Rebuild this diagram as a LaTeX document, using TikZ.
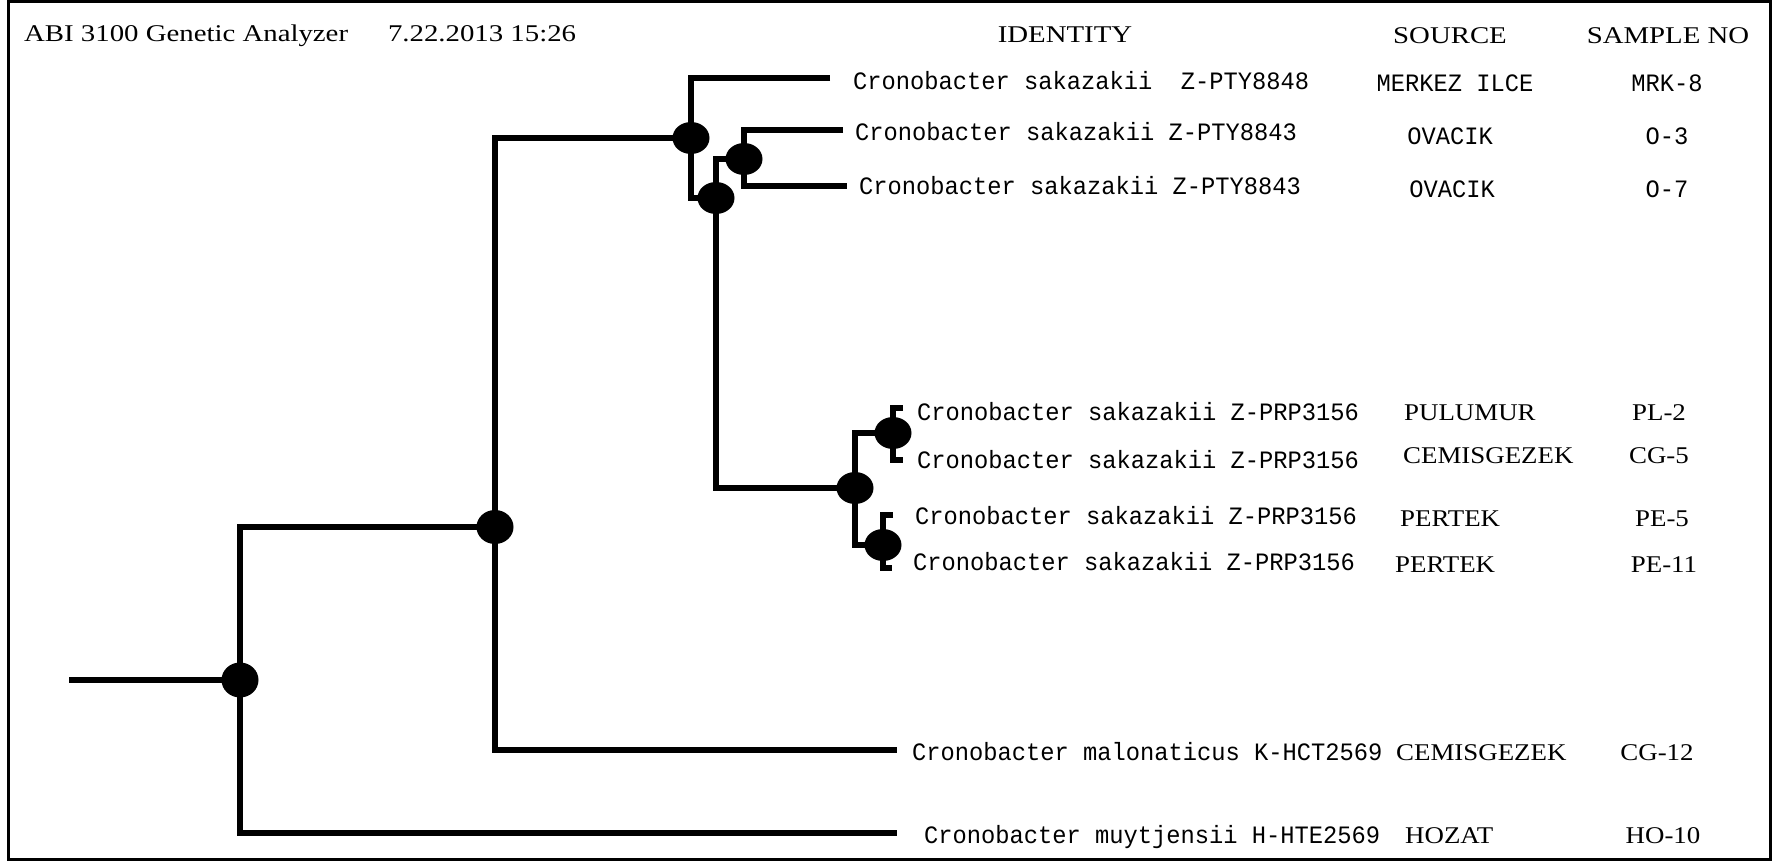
\documentclass[tikz,border=0pt]{standalone}
\usepackage{fontspec}
\usetikzlibrary{shapes.geometric}
\newfontfamily\monof[FakeStretch=0.95]{Liberation Mono}
\newfontfamily\serf[FakeStretch=1.12]{Liberation Serif}
\newfontfamily\hserf[FakeStretch=1.2]{Liberation Serif}
\begin{document}
\begin{tikzpicture}[x=1pt,y=-1pt,
  branch/.style={line width=5.5pt,line join=miter,line cap=butt},
  dot/.style={ellipse,fill=black,draw=none,minimum width=37pt,minimum height=32pt,inner sep=0pt},
  mono/.style={inner sep=0pt,font={\monof\fontsize{25}{30}\selectfont}},
  ser/.style={inner sep=0pt,font={\serf\fontsize{24}{29}\selectfont}},
  hser/.style={inner sep=0pt,font={\hserf\fontsize{24}{29}\selectfont}}]
\useasboundingbox (0,0) rectangle (1773,861);
\draw[line width=3pt] (8.5,1.5) rectangle (1770,859.5);

% header
\node[hser,anchor=base west] (hdr) at (24,42) {ABI 3100 Genetic Analyzer\hspace{40pt}7.22.2013 15:26};
\node[hser,anchor=base] (hid) at (1065,43) {IDENTITY};
\node[hser,anchor=base] (hsrc) at (1450,44) {SOURCE};
\node[hser,anchor=base] (hno) at (1668,44) {SAMPLE NO};

% tree nodes
\node[dot,minimum height=35pt] (root) at (240,680) {};
\node[dot,minimum height=34pt] (nA) at (495,527) {};
\node[dot] (nB) at (691,138) {};
\node[dot] (nC) at (716,198) {};
\node[dot] (nD) at (744,159) {};
\node[dot] (nE) at (855,488) {};
\node[dot] (nF) at (893,433) {};
\node[dot] (nG) at (883,545) {};

% leaf ends
\coordinate (stub) at (69,680);
\coordinate (t1) at (830,78);
\coordinate (t2) at (843,130);
\coordinate (t3) at (847,186);
\coordinate (t4) at (903,408);
\coordinate (t5) at (903,460);
\coordinate (t6) at (893,515);
\coordinate (t7) at (892,568);
\coordinate (t8) at (897,750);
\coordinate (t9) at (897,833);

% branches
\draw[branch] (stub) -- (root.center);
\draw[branch] (nA.center) -| (root.center) |- (t9);
\draw[branch] (nB.center) -| (nA.center) |- (t8);
\draw[branch] (t1) -| (nB.center) |- (nC.center);
\draw[branch] (nD.center) -| (nC.center) |- (nE.center);
\draw[branch] (t2) -| (nD.center) |- (t3);
\draw[branch] (nF.center) -| (nE.center) |- (nG.center);
\draw[branch] (t4) -| (nF.center) |- (t5);
\draw[branch] (t6) -| (nG.center) |- (t7);

% labels: identity
\node[mono,anchor=base west] (id1) at (853,90) {Cronobacter sakazakii\ \ Z-PTY8848};
\node[mono,anchor=base west] (id2) at (855,141) {Cronobacter sakazakii Z-PTY8843};
\node[mono,anchor=base west] (id3) at (859,195) {Cronobacter sakazakii Z-PTY8843};
\node[mono,anchor=base west] (id4) at (917,420) {Cronobacter sakazakii Z-PRP3156};
\node[mono,anchor=base west] (id5) at (917,468) {Cronobacter sakazakii Z-PRP3156};
\node[mono,anchor=base west] (id6) at (915,524) {Cronobacter sakazakii Z-PRP3156};
\node[mono,anchor=base west] (id7) at (913,570) {Cronobacter sakazakii Z-PRP3156};
\node[mono,anchor=base west] (id8) at (912,760) {Cronobacter malonaticus K-HCT2569};
\node[mono,anchor=base west] (id9) at (924,843) {Cronobacter muytjensii H-HTE2569};

% source
\node[mono,anchor=base] (s1) at (1455,92) {MERKEZ ILCE};
\node[mono,anchor=base] (s2) at (1450,145) {OVACIK};
\node[mono,anchor=base] (s3) at (1452,198) {OVACIK};
\node[ser,anchor=base west] (s4) at (1404,420) {PULUMUR};
\node[ser,anchor=base west] (s5) at (1403,463) {CEMISGEZEK};
\node[ser,anchor=base west] (s6) at (1400,526) {PERTEK};
\node[ser,anchor=base west] (s7) at (1395,572) {PERTEK};
\node[ser,anchor=base west] (s8) at (1396,760) {CEMISGEZEK};
\node[ser,anchor=base west] (s9) at (1405,843) {HOZAT};

% sample no
\node[mono,anchor=base] (m1) at (1667,92) {MRK-8};
\node[mono,anchor=base] (m2) at (1667,145) {O-3};
\node[mono,anchor=base] (m3) at (1667,198) {O-7};
\node[ser,anchor=base] (m4) at (1659,420) {PL-2};
\node[ser,anchor=base] (m5) at (1659,463) {CG-5};
\node[ser,anchor=base] (m6) at (1662,526) {PE-5};
\node[ser,anchor=base] (m7) at (1664,572) {PE-11};
\node[ser,anchor=base] (m8) at (1657,760) {CG-12};
\node[ser,anchor=base] (m9) at (1663,843) {HO-10};
\end{tikzpicture}
\end{document}
